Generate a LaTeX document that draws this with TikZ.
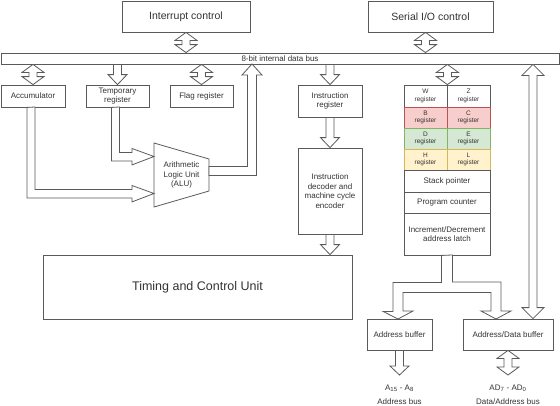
\documentclass[tikz,border=0pt]{standalone}
\usepackage{fontspec}
\setmainfont{Liberation Sans}
\usetikzlibrary{calc}
\definecolor{redf}{HTML}{F8CECC}\definecolor{redd}{HTML}{B85450}
\definecolor{grnf}{HTML}{D5E8D4}\definecolor{grnd}{HTML}{82B366}
\definecolor{ylwf}{HTML}{FFF2CC}\definecolor{ylwd}{HTML}{D6B656}
\definecolor{ln}{HTML}{5A5A5A}
\definecolor{tx}{HTML}{333333}
% vertical hollow double arrow: #2 top point, #3 bottom point, #1 head length
\newcommand\dblv[3][8pt]{\draw[flexa] let \p1=#2, \p2=#3 in
  (\x1,\y1) -- (\x1+11pt,\y1-#1) -- (\x1+4pt,\y1-#1) -- (\x1+4pt,\y2+#1) -- (\x1+11pt,\y2+#1)
  -- (\x1,\y2) -- (\x1-11pt,\y2+#1) -- (\x1-4pt,\y2+#1) -- (\x1-4pt,\y1-#1) -- (\x1-11pt,\y1-#1) -- cycle;}
% vertical hollow single arrow pointing down: #2 top, #3 bottom (tip)
\newcommand\sdown[3][10pt]{\draw[flexa] let \p1=#2, \p2=#3 in
  (\x1-4pt,\y1) -- (\x1-4pt,\y2+#1) -- (\x1-9.5pt,\y2+#1) -- (\x1,\y2) -- (\x1+9.5pt,\y2+#1)
  -- (\x1+4pt,\y2+#1) -- (\x1+4pt,\y1) -- cycle;}
\begin{document}
\begin{tikzpicture}[x=1pt,y=-1pt,
  box/.style={draw=ln, line width=0.8pt, fill=white, text=tx, align=center, inner sep=0pt,
    font=\fontsize{8}{9.6}\selectfont},
  big/.style={font=\fontsize{10.5}{12.6}\selectfont},
  reg/.style={box, minimum width=43pt, font=\fontsize{6.5}{7.5}\selectfont},
  regr/.style={fill=redf, draw=redd},
  regg/.style={fill=grnf, draw=grnd},
  regy/.style={fill=ylwf, draw=ylwd},
  lbl/.style={text=tx, inner sep=0pt, font=\fontsize{8}{9.6}\selectfont},
  flexa/.style={draw=ln, line width=0.8pt, fill=white, line join=miter}]
\useasboundingbox (0,0) rectangle (560,405);
% top blocks and bus
\node[box, big, minimum width=128pt, minimum height=31pt] (intc) at (186,16.5) {Interrupt control};
\node[box, big, minimum width=125pt, minimum height=31pt] (sio) at (430.5,16.5) {Serial I/O control};
\node[box, minimum width=558pt, minimum height=11pt] (bus) at (280,58.5) {8-bit internal data bus};
% left registers
\node[box, minimum width=64pt, minimum height=22pt] (acc) at (33,96) {Accumulator};
\node[box, minimum width=63pt, minimum height=22pt] (temp) at (117.5,96) {Temporary\\register};
\node[box, minimum width=63pt, minimum height=22pt] (flag) at (201.5,96) {Flag register};
% instruction path
\node[box, minimum width=64pt, minimum height=32pt] (ir) at (330,101) {Instruction\\register};
\node[box, minimum width=64pt, minimum height=86pt] (dec) at (330,191) {Instruction\\decoder and\\machine cycle\\encoder};
\node[box, minimum width=309pt, minimum height=64pt, font=\fontsize{12.5}{15}\selectfont] (tcu) at (197.5,287) {Timing and Control Unit};
% register array
\node[reg, minimum height=22pt] (rw) at (425.5,96) {W\\register};
\node[reg, minimum height=22pt] (rz) at (468.5,96) {Z\\register};
\node[reg, regr, minimum height=21pt] (rb) at (425.5,117.5) {B\\register};
\node[reg, regr, minimum height=21pt] (rc) at (468.5,117.5) {C\\register};
\node[reg, regg, minimum height=21pt] (rd) at (425.5,138.5) {D\\register};
\node[reg, regg, minimum height=21pt] (re) at (468.5,138.5) {E\\register};
\node[reg, regy, minimum height=21pt] (rh) at (425.5,159.5) {H\\register};
\node[reg, regy, minimum height=21pt] (rl) at (468.5,159.5) {L\\register};
\node[box, minimum width=86pt, minimum height=22pt] (sp) at (447,181) {Stack pointer};
\node[box, minimum width=86pt, minimum height=21pt] (pc) at (447,202.5) {Program counter};
\node[box, minimum width=86pt, minimum height=42pt] (latch) at (447,234) {Increment/Decrement\\address latch};
% buffers
\node[box, minimum width=65pt, minimum height=31pt] (abuf) at (399.5,334.5) {Address buffer};
\node[box, minimum width=90pt, minimum height=31pt] (adbuf) at (508,334.5) {Address/Data buffer};
\node[lbl] (a15) at (399.5,388) {A\textsubscript{15} - A\textsubscript{8}};
\node[lbl] (abus) at (399.5,401.5) {Address bus};
\node[lbl] (ad7) at (508,388) {AD\textsubscript{7} - AD\textsubscript{0}};
\node[lbl] (dabus) at (508,401.5) {Data/Address bus};
% ALU
\coordinate (alutl) at (154,143);
\coordinate (alutr) at (209,159);
\coordinate (alubr) at (209,191);
\coordinate (alubl) at (154,207);
\coordinate (aluin1) at (154,156.5);
\coordinate (aluin2) at (154,193.5);
\coordinate (aluo1) at (209,166.5);
\coordinate (aluo2) at (209,175.5);
\coordinate (aluup) at (252,64);
\draw[flexa] (alutl) -- (alutr) -- (alubr) -- (alubl) -- cycle;
\node[lbl, align=center] (alu) at (181.5,175) {Arithmetic\\Logic Unit\\(ALU)};
% free ends and helper points
\coordinate (sios) at ([xshift=-5pt]sio.south);
\coordinate (lgb) at ([xshift=25pt]adbuf.north);
\coordinate (lgt) at (lgb |- bus.south);
\coordinate (abend) at (399.5,375);
\coordinate (adend) at (508,375);
\coordinate (tl) at (398,319);
\coordinate (tr) at (496,319);
% bus connections
\dblv{(intc.south)}{(intc.south |- bus.north)}
\dblv{(sios)}{(sios |- bus.north)}
\dblv{(acc.north |- bus.south)}{(acc.north)}
\sdown{(temp.north |- bus.south)}{(temp.north)}
\dblv{(flag.north |- bus.south)}{(flag.north)}
\sdown{(ir.north |- bus.south)}{(ir.north)}
\sdown{(ir.south)}{(dec.north)}
\sdown{(dec.south)}{(dec.south |- tcu.north)}
\dblv{(rw.north east |- bus.south)}{(rw.north east)}
\dblv[11pt]{(lgt)}{(lgb)}
% ALU inputs and output
\draw[flexa] ([xshift=-6pt]temp.south) -- ++(0,53.5) -- ++(20.5,0) -- ++(0,4) -- (aluin1)
  -- ++(-22,-8) -- ++(0,4) -- ++(-12.5,0) -- ++(0,-45.5) -- cycle;
\draw[flexa] ([xshift=-6pt]acc.south) -- ++(0,90.5) -- ++(105,0) -- ++(0,4) -- (aluin2)
  -- ++(-22,-8) -- ++(0,4) -- ++(-97,0) -- ++(0,-82.5) -- cycle;
\draw[flexa] (aluo1) -- ++(38.5,0) -- ++(0,-91.5) -- ++(-5.5,0) -- (aluup) -- ++(10,11)
  -- ++(-5.5,0) -- ++(0,100.5) -- (aluo2) -- cycle;
% address latch split
\draw[flexa] ([xshift=-5.5pt]latch.south) -- ++(0,27) -- ++(-48.5,0) -- ++(0,29) -- ++(-10,0) -- (tl)
  -- ++(15,-8) -- ++(-10,0) -- ++(0,-18.5) -- ++(88,0) -- ++(0,18.5) -- ++(-10,0) -- (tr)
  -- ++(15,-8) -- ++(-10,0) -- ++(0,-29) -- ++(-48.5,0) -- ++(0,-27) -- cycle;
% external buses
\sdown[9pt]{(abuf.south)}{(abend)}
\dblv{(adbuf.south)}{(adend)}
\end{tikzpicture}
\end{document}
